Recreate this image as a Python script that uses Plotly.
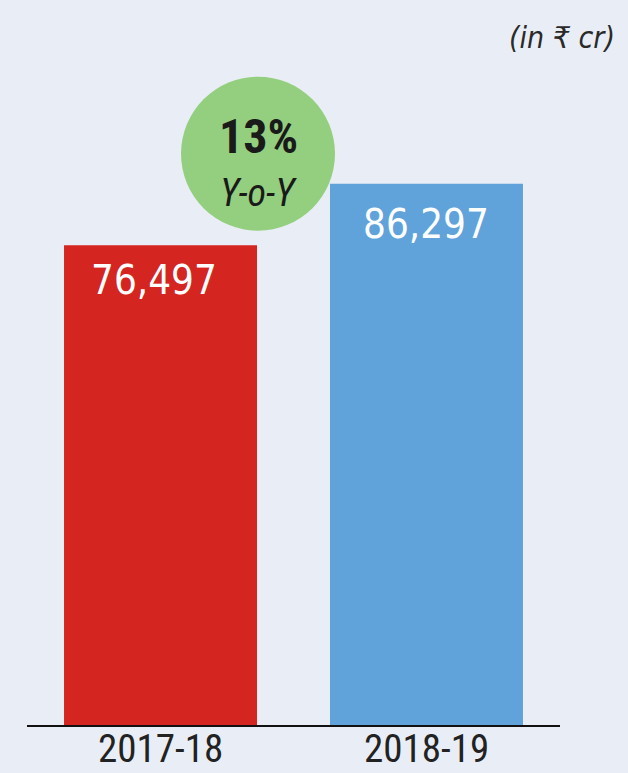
import plotly.graph_objects as go

categories = ["2017-18", "2018-19"]
values = [76497, 86297]
bar_colors = ["#d42520", "#5fa3da"]
growth_label = "13%"
growth_sub = "Y-o-Y"
unit_label = "(in ₹ cr)"

NARROW = "Liberation Sans Narrow, Roboto Condensed, Arial Narrow, DejaVu Sans Condensed, sans-serif"
BG = "#e9eef6"

xs = list(range(len(categories)))

fig = go.Figure()
fig.add_trace(go.Bar(
    x=xs, y=values, width=0.7256,
    marker=dict(color=bar_colors, line=dict(width=0)),
    hoverinfo="skip",
))

# value labels inside bar tops
value_yshift = [-10, -15]
value_xshift = [-7, 0]
for x, v, ys, xsft in zip(xs, values, value_yshift, value_xshift):
    fig.add_annotation(
        x=x, y=v, xref="x", yref="y", text=f"{v:,}", showarrow=False,
        yanchor="top", xanchor="center", yshift=ys, xshift=xsft,
        font=dict(family="DejaVu Sans Condensed, DejaVu Sans, sans-serif", size=40, color="white"),
    )

# category labels under the axis
for x, c in zip(xs, categories):
    fig.add_annotation(
        x=x, y=0, xref="x", yref="paper", text=c, showarrow=False,
        xanchor="center", yanchor="top", yshift=0, borderpad=0,
        font=dict(family=NARROW, size=39, color="#222"),
    )

# growth bubble
cx, cy, r = 0.4334, 0.788, 77
fig.add_shape(
    type="circle", xref="paper", yref="paper",
    xsizemode="pixel", ysizemode="pixel",
    xanchor=cx, yanchor=cy, x0=-r, x1=r, y0=-r, y1=r,
    fillcolor="#93cf7f", line=dict(width=0), layer="above",
)
fig.add_annotation(
    x=cx, y=0.812, xref="paper", yref="paper", text=f"<b>{growth_label}</b>",
    showarrow=False, xanchor="center", yanchor="middle",
    font=dict(family=NARROW, size=48, color="#1a1a1a"),
)
fig.add_annotation(
    x=cx, y=0.734, xref="paper", yref="paper", text=f"<i>{growth_sub}</i>",
    showarrow=False, xanchor="center", yanchor="middle",
    font=dict(family=NARROW, size=38, color="#1a1a1a"),
)

# unit label
fig.add_annotation(
    x=1.107, y=0.975, xref="paper", yref="paper", text=f"<i>{unit_label}</i>",
    showarrow=False, xanchor="right", yanchor="top",
    font=dict(family="DejaVu Sans Condensed, DejaVu Sans, sans-serif", size=30, color="#2a2a2a"),
)

fig.update_layout(
    width=628, height=773,
    margin=dict(l=27, r=68, t=0, b=48, autoexpand=False),
    paper_bgcolor=BG, plot_bgcolor=BG,
    showlegend=False,
    xaxis=dict(
        range=[-0.502, 1.502], tickmode="array", tickvals=xs, ticktext=categories,
        showticklabels=False, automargin=False,
        showgrid=False, zeroline=False, showline=True, linecolor="#111", linewidth=2,
        ticks="", fixedrange=True,
    ),
    yaxis=dict(
        range=[0, 115600], visible=False, showgrid=False, zeroline=False,
        automargin=False, fixedrange=True,
    ),
)

fig.write_html(
    "out.html",
    config={"displayModeBar": False},
    post_script="document.body.style.margin='0';document.body.style.overflow='hidden';document.body.style.background='" + BG + "';",
)
